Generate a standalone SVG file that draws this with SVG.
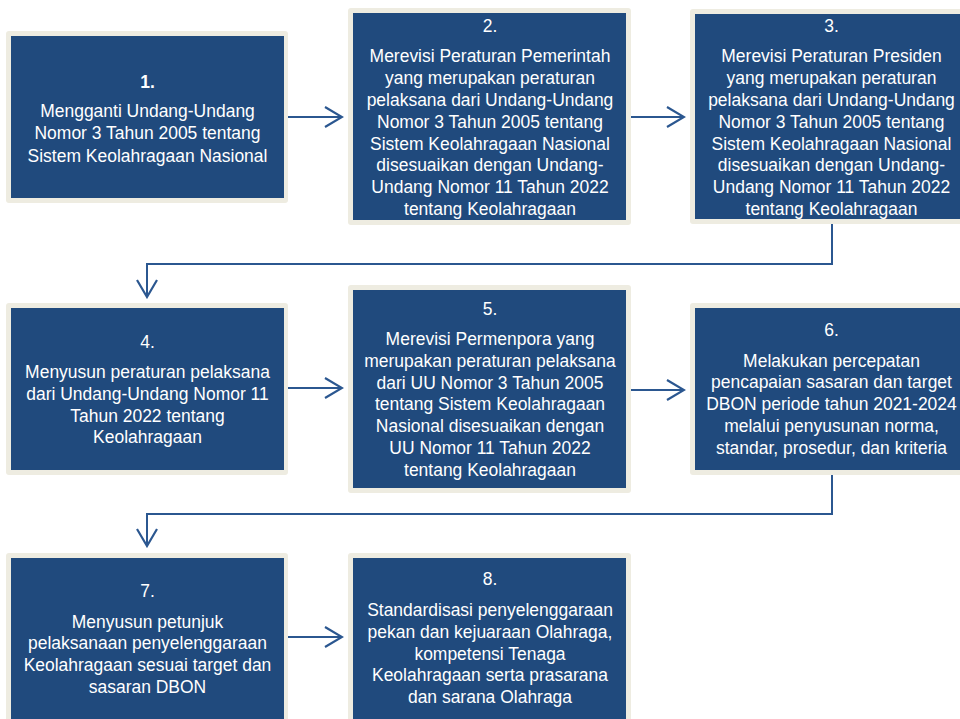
<svg xmlns="http://www.w3.org/2000/svg" width="960" height="719" viewBox="0 0 960 719">
<defs>
<style>
.frame{fill:#EEECE1;}
.inner{fill:#204A7D;}
.t{font-family:"Liberation Sans",Arial,sans-serif;font-size:18.5px;fill:#FFFFFF;text-anchor:middle;}
.b{font-weight:bold;}
.c{fill:none;stroke:#2B5790;stroke-width:2;}
</style>
<marker id="arr" viewBox="0 0 20 24" refX="18" refY="12" markerWidth="20" markerHeight="24" markerUnits="userSpaceOnUse" orient="auto">
<path d="M1,2 L18,12 L1,22" fill="none" stroke="#2B5790" stroke-width="2.2"/>
</marker>
</defs>
<rect x="0" y="0" width="960" height="719" fill="#FFFFFF"/>

<g id="connectors">
<line class="c" x1="288" y1="117" x2="342" y2="117" marker-end="url(#arr)"/>
<line class="c" x1="631" y1="117" x2="684" y2="117" marker-end="url(#arr)"/>
<polyline class="c" points="832,224 832,264 147,264 147,297" marker-end="url(#arr)"/>
<line class="c" x1="288" y1="388" x2="342" y2="388" marker-end="url(#arr)"/>
<line class="c" x1="631" y1="390" x2="684" y2="390" marker-end="url(#arr)"/>
<polyline class="c" points="832,475 832,514 147,514 147,546" marker-end="url(#arr)"/>
<line class="c" x1="288" y1="637" x2="342" y2="637" marker-end="url(#arr)"/>
</g>

<g id="node1">
<rect class="frame" x="6" y="31" width="282" height="172" rx="3"/>
<rect class="inner" x="11" y="36" width="273" height="162"/>
<g transform="matrix(0.945 0 0 1 8.11 0)">
<text class="t b" x="147.5" y="88">1.</text>
<text class="t" x="147.5" y="117">Mengganti Undang-Undang</text>
<text class="t" x="147.5" y="139.5">Nomor 3 Tahun 2005 tentang</text>
<text class="t" x="147.5" y="162">Sistem Keolahragaan Nasional</text>
</g>
</g>

<g id="node2">
<rect class="frame" x="348" y="8" width="283" height="217" rx="3"/>
<rect class="inner" x="353" y="13" width="273" height="207"/>
<g transform="matrix(0.945 0 0 1 26.95 0)">
<text class="t" x="490" y="32.5">2.</text>
<text class="t" x="490" y="62.5">Merevisi Peraturan Pemerintah</text>
<text class="t" x="490" y="84.3">yang merupakan peraturan</text>
<text class="t" x="490" y="106.1">pelaksana dari Undang-Undang</text>
<text class="t" x="490" y="127.9">Nomor 3 Tahun 2005 tentang</text>
<text class="t" x="490" y="149.7">Sistem Keolahragaan Nasional</text>
<text class="t" x="490" y="171.5">disesuaikan dengan Undang-</text>
<text class="t" x="490" y="193.3">Undang Nomor 11 Tahun 2022</text>
<text class="t" x="490" y="215.1">tentang Keolahragaan</text>
</g>
</g>

<g id="node3">
<rect class="frame" x="690" y="9" width="283" height="215" rx="3"/>
<rect class="inner" x="695" y="14" width="273" height="205"/>
<g transform="matrix(0.945 0 0 1 45.73 0)">
<text class="t" x="831.5" y="32">3.</text>
<text class="t" x="831.5" y="62.5">Merevisi Peraturan Presiden</text>
<text class="t" x="831.5" y="84.3">yang merupakan peraturan</text>
<text class="t" x="831.5" y="106.1">pelaksana dari Undang-Undang</text>
<text class="t" x="831.5" y="127.9">Nomor 3 Tahun 2005 tentang</text>
<text class="t" x="831.5" y="149.7">Sistem Keolahragaan Nasional</text>
<text class="t" x="831.5" y="171.5">disesuaikan dengan Undang-</text>
<text class="t" x="831.5" y="193.3">Undang Nomor 11 Tahun 2022</text>
<text class="t" x="831.5" y="215.1">tentang Keolahragaan</text>
</g>
</g>

<g id="node4">
<rect class="frame" x="6" y="303" width="282" height="172" rx="3"/>
<rect class="inner" x="11" y="308" width="273" height="162"/>
<g transform="matrix(0.945 0 0 1 8.11 0)">
<text class="t" x="147.5" y="348">4.</text>
<text class="t" x="147.5" y="378">Menyusun peraturan pelaksana</text>
<text class="t" x="147.5" y="400">dari Undang-Undang Nomor 11</text>
<text class="t" x="147.5" y="421.7">Tahun 2022 tentang</text>
<text class="t" x="147.5" y="443.5">Keolahragaan</text>
</g>
</g>

<g id="node5">
<rect class="frame" x="348" y="285" width="283" height="208" rx="3"/>
<rect class="inner" x="353" y="290" width="273" height="198"/>
<g transform="matrix(0.945 0 0 1 26.95 0)">
<text class="t" x="490" y="315">5.</text>
<text class="t" x="490" y="345">Merevisi Permenpora yang</text>
<text class="t" x="490" y="366.8">merupakan peraturan pelaksana</text>
<text class="t" x="490" y="388.6">dari UU Nomor 3 Tahun 2005</text>
<text class="t" x="490" y="410.4">tentang Sistem Keolahragaan</text>
<text class="t" x="490" y="432.2">Nasional disesuaikan dengan</text>
<text class="t" x="490" y="454">UU Nomor 11 Tahun 2022</text>
<text class="t" x="490" y="475.8">tentang Keolahragaan</text>
</g>
</g>

<g id="node6">
<rect class="frame" x="690" y="303" width="283" height="172" rx="3"/>
<rect class="inner" x="695" y="308" width="273" height="162"/>
<g transform="matrix(0.945 0 0 1 45.73 0)">
<text class="t" x="831.5" y="336">6.</text>
<text class="t" x="831.5" y="366.7">Melakukan percepatan</text>
<text class="t" x="831.5" y="388.5">pencapaian sasaran dan target</text>
<text class="t" x="831.5" y="410.3">DBON periode tahun 2021-2024</text>
<text class="t" x="831.5" y="432.1">melalui penyusunan norma,</text>
<text class="t" x="831.5" y="453.9">standar, prosedur, dan kriteria</text>
</g>
</g>

<g id="node7">
<rect class="frame" x="6" y="553" width="282" height="180" rx="3"/>
<rect class="inner" x="11" y="558" width="273" height="170"/>
<g transform="matrix(0.945 0 0 1 8.11 0)">
<text class="t" x="147.5" y="597">7.</text>
<text class="t" x="147.5" y="627.7">Menyusun petunjuk</text>
<text class="t" x="147.5" y="649.5">pelaksanaan penyelenggaraan</text>
<text class="t" x="147.5" y="671.3">Keolahragaan sesuai target dan</text>
<text class="t" x="147.5" y="693.1">sasaran DBON</text>
</g>
</g>

<g id="node8">
<rect class="frame" x="348" y="553" width="283" height="180" rx="3"/>
<rect class="inner" x="353" y="558" width="273" height="170"/>
<g transform="matrix(0.945 0 0 1 26.95 0)">
<text class="t" x="490" y="585">8.</text>
<text class="t" x="490" y="616">Standardisasi penyelenggaraan</text>
<text class="t" x="490" y="637.8">pekan dan kejuaraan Olahraga,</text>
<text class="t" x="490" y="659.6">kompetensi Tenaga</text>
<text class="t" x="490" y="681.4">Keolahragaan serta prasarana</text>
<text class="t" x="490" y="703.2">dan sarana Olahraga</text>
</g>
</g>
</svg>
